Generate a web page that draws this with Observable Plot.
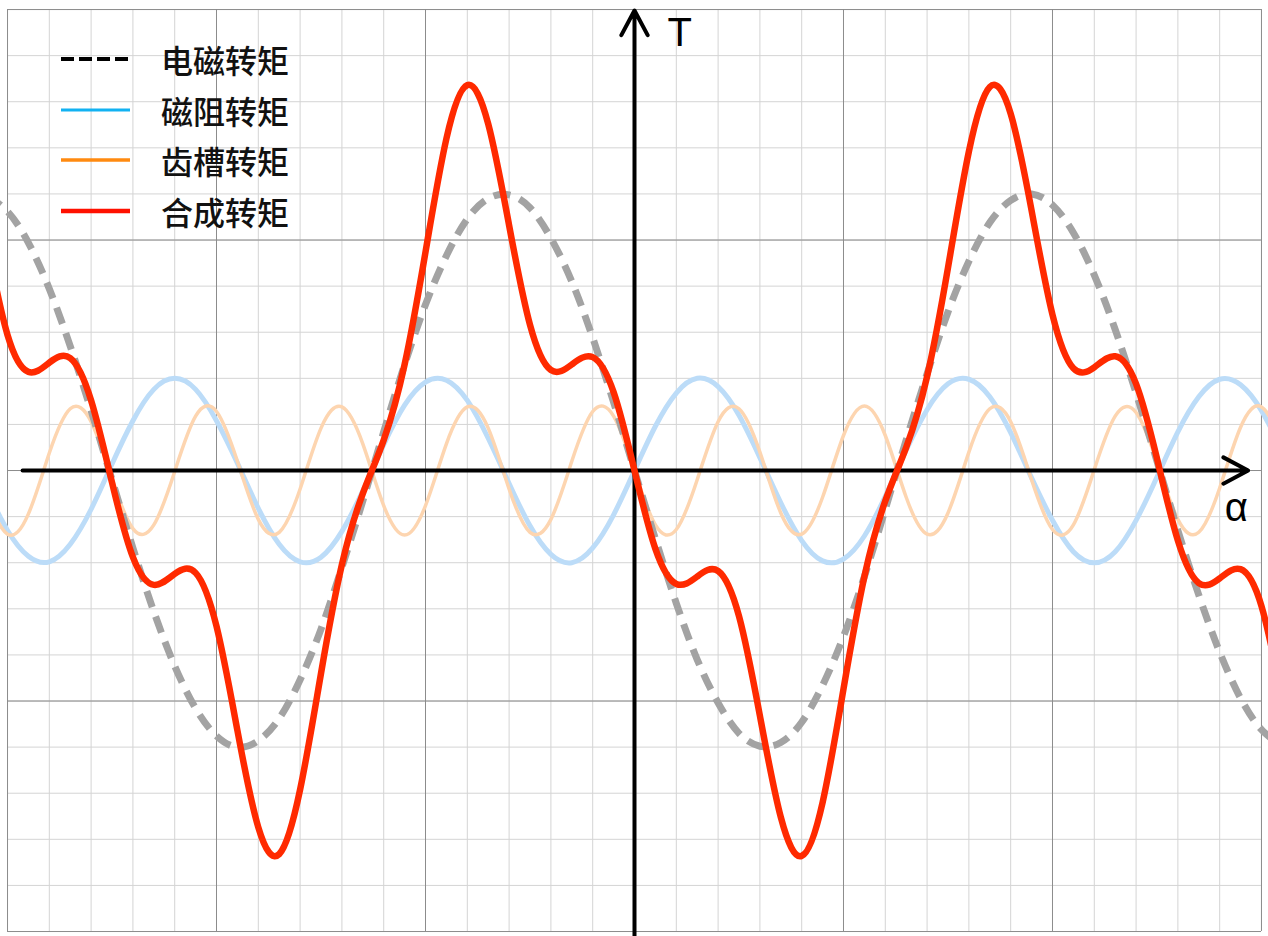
<!DOCTYPE html>
<html>
<head>
<meta charset="utf-8">
<script src="https://cdn.jsdelivr.net/npm/d3@7"></script>
<script src="https://cdn.jsdelivr.net/npm/@observablehq/plot@0.6"></script>
<style>
html, body { margin: 0; padding: 0; background: #fff; }
#wrap { position: relative; width: 1268px; height: 936px; }
#legend { position: absolute; left: 0; top: 34px; font-family: "Noto Sans CJK SC", sans-serif; font-size: 32px; font-weight: 500; color: #111; }
.row { display: flex; align-items: center; height: 50.5px; }
.row svg { margin-left: 61px; margin-right: 31px; }
</style>
</head>
<body>
<div id="wrap"></div>
<script>
// Rotor angle α (rad) sample positions
const alpha = [-7.75,-7.5,-7.25,-7,-6.75,-6.5,-6.25,-6,-5.75,-5.5,-5.25,-5,-4.75,-4.5,-4.25,-4,-3.75,-3.5,-3.25,-3,-2.75,-2.5,-2.25,-2,-1.75,-1.5,-1.25,-1,-0.75,-0.5,-0.25,0,0.25,0.5,0.75,1,1.25,1.5,1.75,2,2.25,2.5,2.75,3,3.25,3.5,3.75,4,4.25,4.5,4.75,5,5.25,5.5,5.75,6,6.25,6.5,6.75,7,7.25,7.5,7.75];

// 电磁转矩
const emTorque = [2.98,2.81,2.47,1.97,1.35,0.65,-0.10,-0.84,-1.53,-2.12,-2.58,-2.88,-3.00,-2.93,-2.69,-2.27,-1.72,-1.05,-0.33,0.42,1.15,1.80,2.33,2.73,2.95,2.99,2.85,2.52,2.05,1.44,0.74,0,-0.74,-1.44,-2.05,-2.52,-2.85,-2.99,-2.95,-2.73,-2.33,-1.80,-1.15,-0.42,0.33,1.05,1.72,2.27,2.69,2.93,3.00,2.88,2.58,2.12,1.53,0.84,0.10,-0.65,-1.35,-1.97,-2.47,-2.81,-2.98];

// 磁阻转矩
const reluctanceTorque = [-0.21,-0.65,-0.93,-0.99,-0.80,-0.42,0.07,0.54,0.88,1.00,0.88,0.54,0.08,-0.41,-0.80,-0.99,-0.94,-0.66,-0.22,0.28,0.71,0.96,0.98,0.76,0.35,-0.14,-0.60,-0.91,-1.00,-0.84,-0.48,0,0.48,0.84,1.00,0.91,0.60,0.14,-0.35,-0.76,-0.98,-0.96,-0.71,-0.28,0.22,0.66,0.94,0.99,0.80,0.41,-0.08,-0.54,-0.88,-1.00,-0.88,-0.54,-0.07,0.42,0.80,0.99,0.93,0.65,0.21];

// 齿槽转矩
const coggingTorque = [-0.28,-0.69,-0.47,0.19,0.67,0.53,-0.09,-0.63,-0.59,-0.01,0.59,0.64,0.10,-0.53,-0.67,-0.20,0.46,0.69,0.29,-0.38,-0.70,-0.38,0.29,0.69,0.46,-0.20,-0.67,-0.53,0.10,0.64,0.59,0,-0.59,-0.64,-0.10,0.53,0.67,0.20,-0.46,-0.69,-0.29,0.38,0.70,0.38,-0.29,-0.69,-0.46,0.20,0.67,0.53,-0.10,-0.64,-0.59,0.01,0.59,0.63,0.09,-0.53,-0.67,-0.19,0.47,0.69,0.28];

// 合成转矩
const resultantTorque = [2.49,1.47,1.07,1.17,1.22,0.76,-0.13,-0.94,-1.24,-1.12,-1.11,-1.69,-2.82,-3.87,-4.16,-3.46,-2.20,-1.02,-0.25,0.33,1.15,2.37,3.60,4.18,3.76,2.66,1.58,1.09,1.15,1.23,0.85,0,-0.85,-1.23,-1.15,-1.09,-1.58,-2.66,-3.76,-4.18,-3.60,-2.37,-1.15,-0.33,0.25,1.02,2.20,3.46,4.16,3.87,2.82,1.69,1.11,1.12,1.24,0.94,0.13,-0.76,-1.22,-1.17,-1.07,-1.47,-2.49];

const seriesNames = ["电磁转矩", "磁阻转矩", "齿槽转矩", "合成转矩"];

// grid ticks
const xMinorTicks = [-7.5,-7,-6.5,-6,-5.5,-5,-4.5,-4,-3.5,-3,-2.5,-2,-1.5,-1,-0.5,0,0.5,1,1.5,2,2.5,3,3.5,4,4.5,5,5.5,6,6.5,7,7.5];
const xMajorTicks = [-7.5,-5,-2.5,0,2.5,5,7.5];
const yMinorTicks = [-5,-4.5,-4,-3.5,-3,-2.5,-2,-1.5,-1,-0.5,0,0.5,1,1.5,2,2.5,3,3.5,4,4.5,5];
const yMajorTicks = [-5,-2.5,0,2.5,5];

const axisLabels = ["T", "α"];

// styles
const curveStyles = [
  {stroke: "#a3a3a3", strokeWidth: 7, strokeDasharray: "17 10", strokeLinecap: "butt"},
  {stroke: "#bcdcf8", strokeWidth: 5},
  {stroke: "#fdd5b0", strokeWidth: 3.5},
  {stroke: "#ff2a00", strokeWidth: 6.5}
];
const legendStyles = [
  {stroke: "#000", width: 4, dash: "13 5"},
  {stroke: "#12b2f2", width: 3, dash: null},
  {stroke: "#ff8a10", width: 3.5, dash: null},
  {stroke: "#ff1000", width: 4.5, dash: null}
];

const seriesValues = [emTorque, reluctanceTorque, coggingTorque, resultantTorque];
const tables = seriesValues.map((vals, s) => alpha.map((a, i) => ({alpha: a, torque: vals[i], series: seriesNames[s]})));

const axisArrows = [
  {x1: -7.32, y1: 0, x2: 7.34, y2: 0},
  {x1: 0, y1: -5.1, x2: 0, y2: 4.99}
];
const labelData = [
  {text: axisLabels[0], x: 0.54, y: 4.74},
  {text: axisLabels[1], x: 7.2, y: -0.41}
];

const curveMark = (s) => Plot.line(tables[s], {
  x: "alpha", y: "torque", curve: "natural",
  strokeLinejoin: "round", strokeLinecap: "round",
  ...curveStyles[s]
});

const chart = Plot.plot({
  width: 1268,
  height: 936,
  margin: 0,
  style: {background: "#fff", overflow: "hidden"},
  x: {domain: [-7.584, 7.584], axis: null},
  y: {domain: [-5.054, 5.098], axis: null},
  marks: [
    Plot.ruleX(xMinorTicks, {x: d => d, y1: -5, y2: 5, stroke: "#d4d4d4", strokeWidth: 1}),
    Plot.ruleY(yMinorTicks, {y: d => d, x1: -7.5, x2: 7.5, stroke: "#d4d4d4", strokeWidth: 1}),
    Plot.ruleX(xMajorTicks, {x: d => d, y1: -5, y2: 5, stroke: "#8c8c8c", strokeWidth: 1}),
    Plot.ruleY(yMajorTicks, {y: d => d, x1: -7.5, x2: 7.5, stroke: "#8c8c8c", strokeWidth: 1}),
    curveMark(1),
    curveMark(2),
    curveMark(0),
    Plot.arrow(axisArrows, {x1: "x1", y1: "y1", x2: "x2", y2: "y2", stroke: "#000", strokeWidth: 4, headLength: 10.5, headAngle: 56}),
    curveMark(3),
    Plot.text(labelData, {x: "x", y: "y", text: "text", fontSize: 40, fontFamily: "Liberation Sans, Arial, sans-serif", fill: "#000", textAnchor: "middle", lineAnchor: "middle"})
  ]
});

const wrap = document.getElementById("wrap");
wrap.appendChild(chart);

// legend overlay
const legend = document.createElement("div");
legend.id = "legend";
seriesNames.forEach((name, i) => {
  const row = document.createElement("div");
  row.className = "row";
  const st = legendStyles[i];
  const svg = d3.create("svg").attr("width", 69).attr("height", 10);
  svg.append("line").attr("x1", 0).attr("x2", 69).attr("y1", 5).attr("y2", 5)
    .attr("stroke", st.stroke).attr("stroke-width", st.width)
    .attr("stroke-dasharray", st.dash);
  row.appendChild(svg.node());
  const span = document.createElement("span");
  span.textContent = name;
  row.appendChild(span);
  legend.appendChild(row);
});
wrap.appendChild(legend);
</script>
</body>
</html>
